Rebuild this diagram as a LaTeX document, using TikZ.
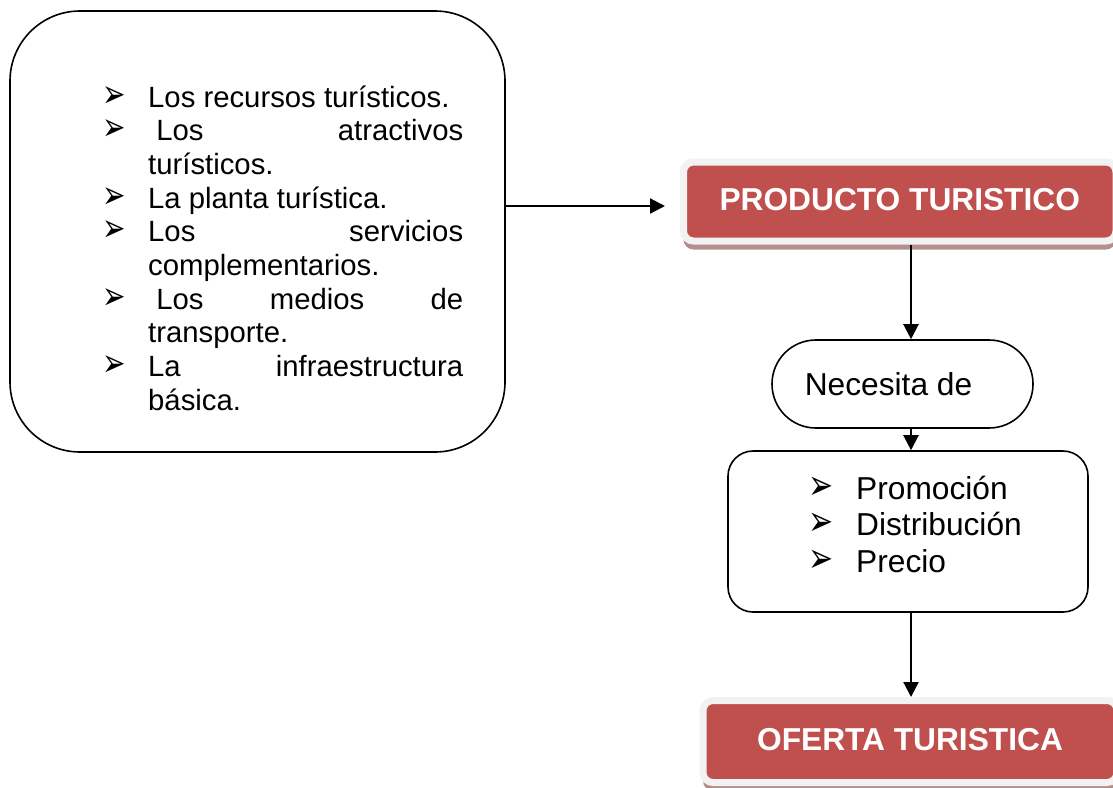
\documentclass[tikz,border=0pt]{standalone}
\usepackage{fontspec}
\usepackage{graphicx}
\setmainfont{Liberation Sans}
\newfontfamily\dejavu{DejaVu Sans}
\usetikzlibrary{arrows.meta,shadows}
\definecolor{redbox}{RGB}{192,80,77}
\definecolor{graybord}{RGB}{242,242,242}
\definecolor{shadowc}{RGB}{178,143,140}
\newcommand{\bulA}{\makebox[0pt][r]{\makebox[46pt][l]{\smash{\scalebox{1}[1.4]{\dejavu\fontsize{28}{28}\selectfont ➢}}}}}
\newcommand{\bulB}{\makebox[0pt][r]{\makebox[48pt][l]{\smash{\scalebox{1}[1.4]{\dejavu\fontsize{30}{30}\selectfont ➢}}}}}
\begin{document}
\begin{tikzpicture}[x=1pt,y=-1pt,
  box/.style={draw=black, line width=1.6pt, fill=white, inner sep=0pt},
  redb/.style={draw=graybord, line width=7pt, fill=redbox, rounded corners=10pt,
    text=white, font=\fontsize{31.7}{36}\selectfont\bfseries,
    general shadow={fill=shadowc, shadow yshift=-8.5pt},
    text height=23pt, text depth=5pt, inner sep=0pt},
  arr/.style={line width=2.2pt, -{Triangle[width=15pt,length=15pt]}}
]
\useasboundingbox (0,0) rectangle (1113,787);
\node[box, rounded corners=70pt, minimum width=495pt, minimum height=441pt] (L) at (257.5,231.5) {};
\node[anchor=base west, inner sep=0pt, font=\fontsize{29.3}{33.7}\selectfont] (Lt) at (148,107) {\vtop{%
\hbox to 315pt{\bulA Los recursos turísticos.\hfill}
\hbox to 315pt{\bulA\ Los\hfill atractivos}
\hbox to 315pt{turísticos.\hfill}
\hbox to 315pt{\bulA La planta turística.\hfill}
\hbox to 315pt{\bulA Los\hfill servicios}
\hbox to 315pt{complementarios.\hfill}
\hbox to 315pt{\bulA\ Los\hfill medios\hfill de}
\hbox to 315pt{transporte.\hfill}
\hbox to 315pt{\bulA La\hfill infraestructura}
\hbox to 315pt{básica.\hfill}}};
\node[redb, minimum width=432.5pt, minimum height=79pt] (P) at (899.75,201.5) {PRODUCTO TURISTICO};
\node[box, rounded corners=43.9pt, minimum width=261pt, minimum height=88pt, font=\fontsize{31.7}{36}\selectfont] (N) at (902.5,384) {\hbox{Necesita de\kern28pt}};
\node[box, rounded corners=25pt, minimum width=360pt, minimum height=161pt] (R) at (908,531.5) {};
\node[anchor=base west, inner sep=0pt, font=\fontsize{31.7}{36.8}\selectfont] (Rt) at (856,499) {\vtop{%
\hbox{\bulB Promoción}
\hbox{\bulB Distribución}
\hbox{\bulB Precio}}};
\node[redb, minimum width=414pt, minimum height=82pt] (O) at (910,741.5) {OFERTA TURISTICA};
\coordinate (ax) at (911,0);
\coordinate (ay) at ([yshift=-4.5pt]P.west);
\draw[arr, shorten >=15pt] (L.east |- ay) -- (ay);
\draw[arr] (ax |- P.south) -- (ax |- N.north);
\draw[arr] (ax |- N.south) -- (ax |- R.north);
\draw[arr] (ax |- R.south) -- (ax |- O.north);
\end{tikzpicture}
\end{document}
